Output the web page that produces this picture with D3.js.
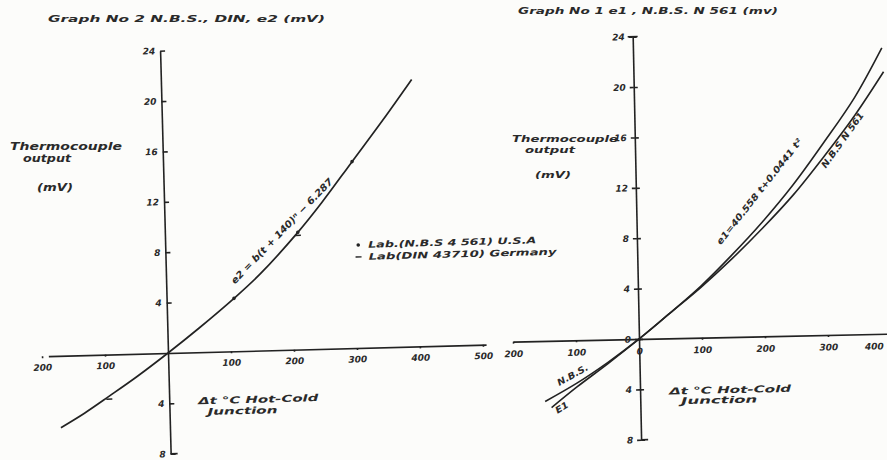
<!DOCTYPE html>
<html>
<head>
<meta charset="utf-8">
<script src="https://cdn.jsdelivr.net/npm/d3@7"></script>
<style>
  body { margin: 0; background: #fcfcfa; }
  svg text { font-family: "DejaVu Sans", sans-serif; font-style: italic; font-weight: bold; fill: #2a2a2a; }
  .ax path, .ax line { stroke: #222; stroke-width: 1.6; }
  .ax text { font-size: 9px; }
</style>
</head>
<body>
<div id="chart"></div>
<script>
// Graph No 2 (left): t in degC, e2 in mV
var curveL = [[-173,-5.7],[-135,-4.6],[-95,-3.3],[-50,-1.8],[0,0],[50,1.9],[107,4.2],[150,6.1],[211,9.3],[250,11.6],[300,14.8],[350,18.0],[398,21.2]];
var nbsPoints = [[107,4.2],[211,9.3],[300,14.8]];
var dinPoints = [[-95,-3.3],[211,9.3]];

// Graph No 1 (right)
var curveE1 = [[-141,-5.3],[-100,-3.7],[-50,-1.9],[0,0],[50,2.0],[100,4.1],[150,6.5],[200,9.1],[250,12.0],[300,15.3],[350,18.8],[395,22.7]];
var curveNBS = [[-151,-4.8],[-100,-3.4],[-50,-1.8],[0,0],[50,2.0],[100,4.0],[150,6.2],[200,8.6],[250,11.2],[300,14.2],[350,17.4],[397,20.8]];

var yTicks = [24,20,16,12,8,4,-4,-8];
var xTicksL = [-200,-100,100,200,300,400,500];
var xTicksR = [-200,-100,0,100,200,300,400];

var width = 887, height = 460;

var svg = d3.select("#chart").append("svg")
    .attr("width", width)
    .attr("height", height);

// set textLength so the hand lettering spans like the scan
function txt(g, x, y, s, size, len, rot) {
  var t = g.append("text")
    .attr("transform", "translate(" + x + "," + y + ")" + (rot ? " rotate(" + rot + ")" : ""))
    .style("font-size", size + "px")
    .text(s);
  if (len) t.attr("textLength", len).attr("lengthAdjust", "spacingAndGlyphs");
  return t;
}

var line = d3.line().curve(d3.curveCatmullRom.alpha(0.5));

// ---------- left graph ----------
var oxL = 168, oyL = 353;
var gL = svg.append("g").attr("transform", "rotate(-1.5," + oxL + "," + oyL + ")");

var xL = d3.scaleLinear().domain([-190, 505]).range([oxL - 0.63*190, oxL + 0.63*505]);
var yL = d3.scaleLinear().domain([-8, 24]).range([oyL + 12.6*8, oyL - 12.6*24]);

gL.append("g").attr("class", "ax")
  .attr("transform", "translate(0," + oyL + ")")
  .call(d3.axisBottom(xL).tickValues(xTicksL).tickSize(2).tickSizeOuter(0).tickPadding(6)
    .tickFormat(function(d){ return Math.abs(d); }));

gL.append("g").attr("class", "ax")
  .attr("transform", "translate(" + oxL + ",0)")
  .call(d3.axisLeft(yL).tickValues(yTicks).tickSize(-5).tickSizeOuter(0).tickPadding(5)
    .tickFormat(function(d){ return Math.abs(d); }));

// foot at bottom of y axis
gL.append("line").attr("x1", oxL).attr("x2", oxL + 7).attr("y1", yL(-8)).attr("y2", yL(-8))
  .attr("stroke", "#222").attr("stroke-width", 1.6);

gL.append("path")
  .attr("d", line(curveL.map(function(d){ return [xL(d[0]), yL(d[1])]; })))
  .attr("fill", "none").attr("stroke", "#222").attr("stroke-width", 1.7);

gL.selectAll(".nbs").data(nbsPoints).enter().append("circle")
  .attr("cx", function(d){ return xL(d[0]); })
  .attr("cy", function(d){ return yL(d[1]); })
  .attr("r", 1.8).attr("fill", "#222");

gL.selectAll(".din").data(dinPoints).enter().append("line")
  .attr("x1", function(d){ return xL(d[0]) - 3; })
  .attr("x2", function(d){ return xL(d[0]) + 3; })
  .attr("y1", function(d){ return yL(d[1]) + 3; })
  .attr("y2", function(d){ return yL(d[1]) + 3; })
  .attr("stroke", "#222").attr("stroke-width", 1.4);

txt(gL, xL(109), yL(5.3), "e2 = b(t + 140)\u207F \u2212 6.287", 9.5, 142, -44.6);

// legend
gL.append("circle").attr("cx", 361).attr("cy", 250).attr("r", 1.8).attr("fill", "#222");
gL.append("line").attr("x1", 358).attr("x2", 364).attr("y1", 262).attr("y2", 262)
  .attr("stroke", "#222").attr("stroke-width", 1.4);
txt(gL, 371, 253, "Lab.(N.B.S 4 561)  U.S.A", 9, 168);
txt(gL, 371, 265, "Lab(DIN 43710) Germany", 9, 188);

txt(gL, 197, 405, "\u0394t \u00B0C  Hot-Cold", 9.5, 120);
txt(gL, 206, 416, "Junction", 9.5, 70);

// ---------- right graph ----------
var oxR = 639, oyR = 339;
var gR = svg.append("g").attr("transform", "rotate(-1.2," + oxR + "," + oyR + ")");

var xR = d3.scaleLinear().domain([-200, 420]).range([oxR - 0.63*200, oxR + 0.63*420]);
var yR = d3.scaleLinear().domain([-8, 24]).range([oyR + 12.6*8, oyR - 12.6*24]);

var xAxR = gR.append("g").attr("class", "ax")
  .attr("transform", "translate(0," + oyR + ")")
  .call(d3.axisBottom(xR).tickValues(xTicksR).tickSize(2).tickSizeOuter(0).tickPadding(7)
    .tickFormat(function(d){ return Math.abs(d); }));
// last label sits at the page edge
xAxR.selectAll(".tick text").filter(function(d){ return d === 400; })
  .attr("text-anchor", "end").attr("dx", -8);

var yAxR = gR.append("g").attr("class", "ax")
  .attr("transform", "translate(" + oxR + ",0)")
  .call(d3.axisLeft(yR).tickValues(yTicks.concat([0])).tickSize(4).tickSizeOuter(0).tickPadding(4)
    .tickFormat(function(d){ return Math.abs(d); }));
// crossing ticks
yAxR.selectAll(".tick").append("line").attr("x2", 4).attr("stroke", "#222").attr("stroke-width", 1.4);

gR.append("line").attr("x1", oxR - 5).attr("x2", oxR + 5).attr("y1", yR(24)).attr("y2", yR(24))
  .attr("stroke", "#222").attr("stroke-width", 1.6);
gR.append("line").attr("x1", oxR).attr("x2", oxR + 7).attr("y1", yR(-8)).attr("y2", yR(-8))
  .attr("stroke", "#222").attr("stroke-width", 1.6);

[curveE1, curveNBS].forEach(function(c) {
  gR.append("path")
    .attr("d", line(c.map(function(d){ return [xR(d[0]), yR(d[1])]; })))
    .attr("fill", "none").attr("stroke", "#222").attr("stroke-width", 1.6);
});

txt(gR, xR(133), yR(7.3), "e1=40.558 t+0.0441 t\u00B2", 9, 132, -50.5);
txt(gR, xR(302), yR(13.2), "N.B.S N 561", 9, 66, -53);
txt(gR, xR(-128), yR(-3.6), "N.B.S.", 9, 34, -28);
txt(gR, xR(-132), yR(-5.8), "E1", 9, 14, -30);

txt(gR, 668, 395, "\u0394t \u00B0C  Hot-Cold", 9.5, 122);
txt(gR, 680, 405, "Junction", 9.5, 76);

// ---------- titles and y labels ----------
txt(svg, 48, 22, "Graph  No 2    N.B.S., DIN, e2 (mV)", 9, 277);
txt(svg, 518, 14, "Graph  No 1    e1 , N.B.S. N 561 (mv)", 9, 260);

txt(svg, 10, 150, "Thermocouple", 10, 112);
txt(svg, 23, 162, "output", 10, 48);
txt(svg, 37, 191, "(mV)", 10, 36);

txt(svg, 512, 142, "Thermocouple", 9.5, 106);
txt(svg, 525, 153, "output", 9.5, 50);
txt(svg, 535, 178, "(mV)", 9.5, 36);
</script>
</body>
</html>
